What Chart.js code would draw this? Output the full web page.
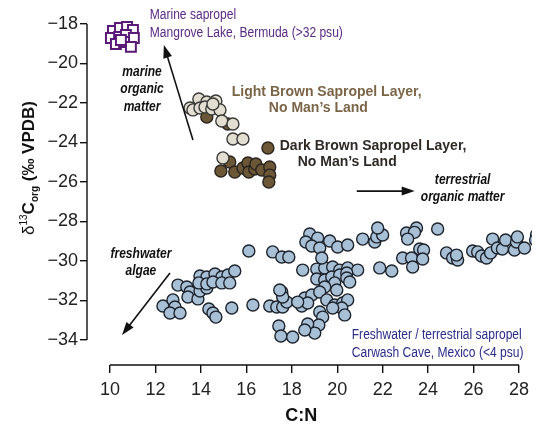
<!DOCTYPE html>
<html>
<head>
<meta charset="utf-8">
<script src="https://cdn.jsdelivr.net/npm/chart.js@4.4.1/dist/chart.umd.min.js"></script>
<style>
  body{margin:0;background:#fff;}
  canvas{display:block;}
</style>
</head>
<body>
<canvas id="chart" width="541" height="434"></canvas>
<script>
//Tick labels of both axes
const xTicks = [10, 12, 14, 16, 18, 20, 22, 24, 26, 28];
const yTicks = [-34, -32, -30, -28, -26, -24, -22, -20, -18];

//Marine sapropel, Mangrove Lake (C:N, d13C)
const marineCN = [10.13, 10.44, 10.75, 11.01, 10.04, 10.40, 10.70, 11.05, 10.26, 10.62, 10.92, 10.48];
const marineC = [-18.35, -18.20, -18.15, -18.30, -18.71, -18.66, -18.56, -18.71, -19.01, -18.91, -19.16, -18.81];

//Light brown sapropel layer, No Man's Land
const lightCN = [13.91, 14.26, 14.66, 13.52, 13.65, 13.96, 14.18, 14.48, 14.84, 14.53, 14.92, 15.41, 15.41, 15.85, 14.97];
const lightC = [-21.80, -21.95, -21.90, -22.25, -22.35, -22.25, -22.20, -22.30, -22.35, -22.05, -22.91, -23.06, -23.82, -23.82, -24.78];

//Dark brown sapropel layer, No Man's Land
const darkCN = [14.26, 15.19, 16.95, 15.27, 14.88, 15.49, 15.85, 16.07, 16.11, 16.37, 16.42, 16.68, 17.03, 17.03, 16.99];
const darkC = [-22.71, -23.06, -24.28, -24.99, -25.44, -25.49, -25.29, -25.04, -25.49, -25.34, -25.09, -25.39, -25.24, -25.65, -26.00];

//Freshwater / terrestrial sapropel, Carwash Cave
const caveCN = [
  12.33, 12.77, 12.86, 12.64, 13.08, 12.99, 13.38, 13.52, 13.43, 13.87, 13.96, 14.26, 13.96, 14.26,
  14.62, 14.92, 15.19, 15.49, 13.91, 14.26, 14.53, 14.92, 15.27, 14.35, 14.53, 14.66, 15.36, 16.29,
  16.11, 17.16, 17.56, 17.87, 18.79, 19.14, 18.62, 18.88, 19.23, 19.67, 20.02, 20.46, 21.12, 21.65,
  21.74, 22.00, 21.78, 18.48, 19.10, 19.45, 19.80, 20.11, 20.46, 20.90, 19.32, 19.10, 19.45, 19.76,
  20.11, 20.42, 20.42, 20.55, 19.89, 19.45, 19.98, 21.87, 22.40,
  17.03, 17.34, 17.60, 17.78, 17.56, 17.60, 17.47, 18.44, 18.57, 18.88, 19.23, 18.70, 18.26, 19.54,
  19.89, 20.24, 20.46, 20.20, 19.80, 20.33, 19.23, 19.36, 19.19, 18.70, 19.01, 18.57, 17.43, 17.52, 18.04,
  23.05, 23.49, 23.40, 23.10, 24.42, 22.88, 23.27, 23.32, 23.63, 23.80, 23.76, 24.81, 25.08, 25.30,
  25.25, 25.96, 26.18, 26.35, 26.57, 26.75, 26.84, 27.05, 27.27, 27.41, 27.80, 27.89, 27.93, 28.24,
  28.77, 28.73
];
const caveC = [
  -32.28, -31.97, -32.33, -32.63, -32.63, -31.22, -31.32, -31.57, -31.82, -31.92, -31.52, -31.37, -30.76, -30.81,
  -30.66, -30.81, -30.71, -30.51, -31.11, -31.16, -31.06, -31.11, -31.11, -32.43, -32.63, -32.84, -32.38, -32.23,
  -29.49, -29.54, -29.80, -29.80, -28.63, -28.84, -29.04, -29.24, -29.34, -28.99, -29.29, -29.19, -28.89, -29.04,
  -28.78, -28.68, -28.33, -30.46, -30.41, -30.35, -30.30, -30.46, -30.35, -30.46, -29.85, -30.91, -30.96, -30.81,
  -30.71, -30.61, -30.86, -31.06, -31.11, -31.32, -31.47, -30.35, -30.51,
  -32.28, -32.33, -32.33, -32.08, -31.57, -31.82, -31.47, -32.28, -31.87, -31.72, -31.57, -32.13, -32.08, -31.97,
  -32.23, -32.13, -31.97, -32.38, -32.38, -32.73, -32.58, -32.84, -33.24, -33.19, -33.65, -33.49, -33.29, -33.80, -33.85,
  -28.58, -28.33, -28.55, -28.89, -28.38, -29.85, -29.85, -30.30, -29.39, -29.44, -29.90, -29.59, -29.85, -29.95,
  -29.70, -29.49, -29.54, -29.75, -29.85, -29.59, -28.89, -29.34, -29.39, -28.94, -29.44, -29.04, -28.78, -29.34,
  -28.68, -28.94
];

//Builds the {x,y} list chart.js needs
const toPoints = (xs, ys) => xs.map((x, i) => ({x: x, y: ys[i]}));

const FONT = "'Liberation Sans', Arial, sans-serif";
Chart.defaults.font.family = FONT;

//Text with an optional horizontal squeeze (the labels use a narrow face)
function drawText(ctx, str, x, y, font, color, align, sx) {
  ctx.save();
  ctx.font = font;
  ctx.fillStyle = color;
  ctx.textBaseline = 'middle';
  ctx.textAlign = 'left';
  let w = ctx.measureText(str).width * sx;
  let left = align === 'center' ? x - w / 2 : x;
  ctx.translate(left, y);
  ctx.scale(sx, 1);
  ctx.fillText(str, 0, 0);
  ctx.restore();
}

function drawArrow(ctx, x1, y1, x2, y2) {
  let a = Math.atan2(y2 - y1, x2 - x1);
  let len = 13, half = 4.5;
  ctx.save();
  ctx.strokeStyle = '#111';
  ctx.fillStyle = '#111';
  ctx.lineWidth = 1.6;
  ctx.beginPath();
  ctx.moveTo(x1, y1);
  ctx.lineTo(x2 - len * 0.8 * Math.cos(a), y2 - len * 0.8 * Math.sin(a));
  ctx.stroke();
  ctx.beginPath();
  ctx.moveTo(x2, y2);
  ctx.lineTo(x2 - len * Math.cos(a) + half * Math.sin(a), y2 - len * Math.sin(a) - half * Math.cos(a));
  ctx.lineTo(x2 - len * Math.cos(a) - half * Math.sin(a), y2 - len * Math.sin(a) + half * Math.cos(a));
  ctx.closePath();
  ctx.fill();
  ctx.restore();
}

//Labels placed in data units: [text, C:N, d13C, font, color, align, squeeze]
const notes = [
  ['Marine sapropel', 11.75, -17.54, '14px ' + FONT, '#5a2a82', 'left', 0.86],
  ['Mangrove Lake, Bermuda (>32 psu)', 11.75, -18.46, '14px ' + FONT, '#5a2a82', 'left', 0.86],
  ['marine', 11.41, -20.43, 'italic bold 14px ' + FONT, '#111', 'center', 0.86],
  ['organic', 11.41, -21.29, 'italic bold 14px ' + FONT, '#111', 'center', 0.86],
  ['matter', 11.41, -22.20, 'italic bold 14px ' + FONT, '#111', 'center', 0.86],
  ['Light Brown Sapropel Layer,', 15.36, -21.44, 'bold 14px ' + FONT, '#7a6548', 'left', 1],
  ['No Man\u2019s Land', 16.99, -22.25, 'bold 14px ' + FONT, '#7a6548', 'left', 1],
  ['Dark Brown Sapropel Layer,', 17.47, -24.18, 'bold 14px ' + FONT, '#2e2924', 'left', 1],
  ['No Man\u2019s Land', 18.26, -24.99, 'bold 14px ' + FONT, '#2e2924', 'left', 1],
  ['terrestrial', 25.52, -25.90, 'italic bold 14px ' + FONT, '#111', 'center', 0.86],
  ['organic matter', 25.52, -26.76, 'italic bold 14px ' + FONT, '#111', 'center', 0.86],
  ['freshwater', 11.36, -29.65, 'italic bold 14px ' + FONT, '#111', 'center', 0.86],
  ['algae', 11.36, -30.51, 'italic bold 14px ' + FONT, '#111', 'center', 0.86],
  ['Freshwater / terrestrial sapropel', 20.64, -33.75, '14px ' + FONT, '#2b2c88', 'left', 0.86],
  ['Carwash Cave, Mexico (<4 psu)', 20.64, -34.66, '14px ' + FONT, '#2b2c88', 'left', 0.86]
];
//Arrows: from (C:N, d13C) to (C:N, d13C)
const arrows = [
  [13.65, -23.87, 12.37, -19.06],
  [20.86, -26.46, 23.41, -26.46],
  [12.64, -30.61, 10.53, -33.75]
];

const notesPlugin = {
  id: 'notes',
  afterDatasetsDraw(chart) {
    const ctx = chart.ctx, x = chart.scales.x, y = chart.scales.y;
    notes.forEach(n => drawText(ctx, n[0], x.getPixelForValue(n[1]), y.getPixelForValue(n[2]), n[3], n[4], n[5], n[6]));
    arrows.forEach(a => drawArrow(ctx, x.getPixelForValue(a[0]), y.getPixelForValue(a[1]), x.getPixelForValue(a[2]), y.getPixelForValue(a[3])));
  },
  afterDraw(chart) {
    const ctx = chart.ctx, x = chart.scales.x, y = chart.scales.y, area = chart.chartArea;
    //Axis lines only span the first to last tick
    ctx.save();
    ctx.strokeStyle = '#111';
    ctx.lineWidth = 1.4;
    ctx.beginPath();
    ctx.moveTo(x.getPixelForValue(xTicks[0]), area.bottom);
    ctx.lineTo(x.getPixelForValue(xTicks[xTicks.length - 1]), area.bottom);
    ctx.moveTo(area.left, y.getPixelForValue(yTicks[0]));
    ctx.lineTo(area.left, y.getPixelForValue(yTicks[yTicks.length - 1]));
    ctx.stroke();
    ctx.restore();

    //x title
    drawText(ctx, 'C:N', x.getPixelForValue(18.42), area.bottom + 51, 'bold 18px ' + FONT, '#111', 'center', 1);

    //y title, rotated, with super- and subscript
    const parts = [
      ['\u03b4', '17px ' + FONT, 0],
      ['13', '10px ' + FONT, -7],
      ['C', 'bold 17px ' + FONT, 0],
      ['org', 'bold 10px ' + FONT, 4],
      [' (\u2030 VPDB)', 'bold 17px ' + FONT, 0]
    ];
    ctx.save();
    ctx.fillStyle = '#111';
    ctx.textBaseline = 'alphabetic';
    let total = 0;
    parts.forEach(p => { ctx.font = p[1]; total += ctx.measureText(p[0]).width; });
    ctx.translate(area.left - 59, y.getPixelForValue(-25.29));
    ctx.rotate(-Math.PI / 2);
    let u = -total / 2;
    parts.forEach(p => {
      ctx.font = p[1];
      ctx.fillText(p[0], u, 6 + p[2]);
      u += ctx.measureText(p[0]).width;
    });
    ctx.restore();
  }
};

let ctx = document.getElementById('chart');
let chart = new Chart(ctx, {
  type: 'scatter',
  data: {
    datasets: [
      {
        label: 'Carwash Cave',
        data: toPoints(caveCN, caveC),
        backgroundColor: '#a8c0d6',
        borderColor: '#1d232c',
        borderWidth: 1.4,
        pointRadius: 6
      },
      {
        label: 'Light brown',
        data: toPoints(lightCN, lightC),
        backgroundColor: '#e2ded2',
        borderColor: '#3a3a36',
        borderWidth: 1.4,
        pointRadius: 6
      },
      {
        label: 'Dark brown',
        data: toPoints(darkCN, darkC),
        backgroundColor: '#6b5636',
        borderColor: '#2a2520',
        borderWidth: 1.4,
        pointRadius: 6
      },
      {
        label: 'Mangrove Lake',
        data: toPoints(marineCN, marineC),
        backgroundColor: '#ffffff',
        borderColor: '#5a1a78',
        borderWidth: 2,
        pointStyle: 'rect',
        pointRadius: 7
      }
    ]
  },
  options: {
    responsive: false,
    devicePixelRatio: 1,
    animation: false,
    layout: {padding: {top: 4, right: 0, left: 0, bottom: 0}},
    plugins: {legend: {display: false}, tooltip: {enabled: false}},
    scales: {
      x: {
        type: 'linear',
        min: 9,
        max: 28.956,
        afterBuildTicks: s => { s.ticks = xTicks.map(v => ({value: v})); },
        //Fixed size, no extra room kept for the end labels
        afterFit: s => { s.height = 69; s.paddingLeft = 0; s.paddingRight = 0; },
        border: {display: false},
        grid: {drawOnChartArea: false, drawTicks: true, tickLength: 8, color: '#111', lineWidth: 1.4},
        ticks: {color: '#222', font: {size: 18}, padding: 6, autoSkip: false, maxRotation: 0}
      },
      y: {
        type: 'linear',
        min: -35.266,
        max: -16.987,
        afterBuildTicks: s => { s.ticks = yTicks.map(v => ({value: v})); },
        afterFit: s => { s.width = 87; s.paddingTop = 0; s.paddingBottom = 0; },
        border: {display: false},
        grid: {drawOnChartArea: false, drawTicks: true, tickLength: 7, color: '#111', lineWidth: 1.4},
        ticks: {
          color: '#222',
          font: {size: 18},
          padding: 2,
          autoSkip: false,
          callback: v => String(v).replace('-', '\u2212')
        }
      }
    }
  },
  plugins: [notesPlugin]
});

//Re-fit the ranges so the ticks land where the reference has them
//(10 at x=110, 28 at x=519, -18 at y=24, -34 at y=340)
const area = chart.chartArea;
const pxX = (519 - 110) / (28 - 10);
const pxY = (340 - 24) / (34 - 18);
chart.options.scales.x.min = 10 - (110 - area.left) / pxX;
chart.options.scales.x.max = 10 + (area.right - 110) / pxX;
chart.options.scales.y.max = -18 + (24 - area.top) / pxY;
chart.options.scales.y.min = -18 - (area.bottom - 24) / pxY;
chart.update();
</script>
</body>
</html>
